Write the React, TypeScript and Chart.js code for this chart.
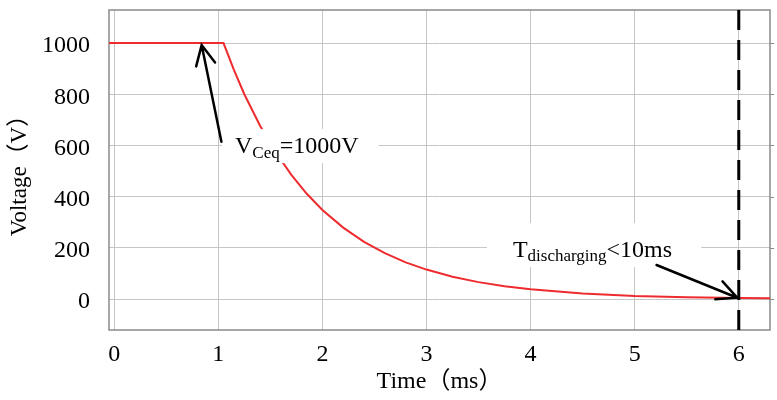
import { useEffect, useRef } from 'react';
import { Chart, registerables } from 'chart.js';

Chart.register(...registerables);

// Capacitor voltage during discharge (time in ms, voltage in V)
const TIME_MS = [-0.05, 0.5, 1.05, 1.15, 1.25, 1.4, 1.55, 1.7, 1.85, 2.0, 2.2, 2.4, 2.6, 2.8, 3.0, 3.25, 3.5, 3.75, 4.0, 4.5, 5.0, 5.5, 6.0, 6.3];
const VOLTAGE_V = [1000, 1000, 1000, 895, 800, 678, 574, 486, 411, 348, 279, 223, 179, 143, 115, 87, 66, 50, 38, 22, 12, 7, 4, 3];

const X_TICKS = [0, 1, 2, 3, 4, 5, 6];
const Y_TICKS = [0, 200, 400, 600, 800, 1000];
const X_MIN = -0.05;
const X_MAX = 6.3;
const Y_MIN = -121;
const Y_MAX = 1129;

// Time at which the discharge is considered complete
const DISCHARGE_MARK_MS = 6;

const SERIF = "'Liberation Serif', 'Times New Roman', 'Noto Sans CJK SC', serif";
const MAIN_FONT = `24px ${SERIF}`;
const SUB_FONT = `17px ${SERIF}`;

// Text callouts: anchor is the baseline-left of the text in data units
const CALLOUTS = [
  { at: [1.16, 570], main: 'V', sub: 'Ceq', tail: '=1000V', subDrop: 5, pad: [13, 24, 20, 10] },
  { at: [3.83, 164], main: 'T', sub: 'discharging', tail: '<10ms', subDrop: 4, pad: [26, 34, 29, 10] },
];

// Arrows pointing from the callouts to the curve
const ARROWS = [
  { from: [1.03, 614], to: [0.84, 992] },
  { from: [5.21, 133], to: [5.985, 5] },
];

const GRID = '#c6c6c6';
const FRAME = '#8a8a8a';

const overlay = {
  id: 'overlay',
  beforeDatasetsDraw(chart: any) {
    const { ctx, chartArea: a, scales } = chart;
    ctx.save();
    ctx.strokeStyle = FRAME;
    ctx.lineWidth = 1.5;
    ctx.strokeRect(a.left, a.top, a.right - a.left, a.bottom - a.top);
    ctx.lineWidth = 1;
    for (const v of Y_TICKS) {
      const py = Math.round(scales.y.getPixelForValue(v)) + 0.5;
      ctx.beginPath();
      ctx.moveTo(a.right, py);
      ctx.lineTo(a.right + 4, py);
      ctx.stroke();
    }
    ctx.restore();
  },
  afterDatasetsDraw(chart: any) {
    const { ctx, chartArea: a, scales } = chart;
    const { x, y } = scales;
    ctx.save();

    // vertical dashed marker
    const mx = x.getPixelForValue(DISCHARGE_MARK_MS);
    ctx.strokeStyle = '#000';
    ctx.lineWidth = 3;
    ctx.setLineDash([20, 10]);
    ctx.beginPath();
    ctx.moveTo(mx, a.top);
    ctx.lineTo(mx, a.bottom);
    ctx.stroke();
    ctx.setLineDash([]);

    // callout text on white boxes
    ctx.textAlign = 'left';
    ctx.textBaseline = 'alphabetic';
    for (const c of CALLOUTS) {
      const px = x.getPixelForValue(c.at[0]);
      const py = y.getPixelForValue(c.at[1]);
      ctx.font = MAIN_FONT;
      const w1 = ctx.measureText(c.main).width;
      const w3 = ctx.measureText(c.tail).width;
      ctx.font = SUB_FONT;
      const w2 = ctx.measureText(c.sub).width;
      const [pl, pt, pr, pb] = c.pad;
      ctx.fillStyle = '#fff';
      ctx.fillRect(px - pl, py - pt, w1 + w2 + w3 + pl + pr, pt + pb);
      ctx.fillStyle = '#000';
      ctx.font = MAIN_FONT;
      ctx.fillText(c.main, px, py);
      ctx.font = SUB_FONT;
      ctx.fillText(c.sub, px + w1, py + c.subDrop);
      ctx.font = MAIN_FONT;
      ctx.fillText(c.tail, px + w1 + w2, py);
    }

    // arrows with open heads
    ctx.strokeStyle = '#000';
    ctx.lineWidth = 2.5;
    ctx.lineCap = 'round';
    for (const ar of ARROWS) {
      const x0 = x.getPixelForValue(ar.from[0]);
      const y0 = y.getPixelForValue(ar.from[1]);
      const x1 = x.getPixelForValue(ar.to[0]);
      const y1 = y.getPixelForValue(ar.to[1]);
      const ang = Math.atan2(y0 - y1, x0 - x1);
      const len = 22;
      const spread = (26 * Math.PI) / 180;
      ctx.beginPath();
      ctx.moveTo(x0, y0);
      ctx.lineTo(x1, y1);
      ctx.moveTo(x1 + len * Math.cos(ang - spread), y1 + len * Math.sin(ang - spread));
      ctx.lineTo(x1, y1);
      ctx.lineTo(x1 + len * Math.cos(ang + spread), y1 + len * Math.sin(ang + spread));
      ctx.stroke();
    }
    ctx.restore();
  },
};

export default function App() {
  const ref = useRef<HTMLCanvasElement>(null);

  useEffect(() => {
    document.body.style.margin = '0';
    const points = TIME_MS.map((t, i) => ({ x: t, y: VOLTAGE_V[i] }));
    const chart = new Chart(ref.current!, {
      type: 'line',
      data: {
        datasets: [
          {
            label: 'Voltage',
            data: points,
            borderColor: '#ee2b2f',
            borderWidth: 2,
            pointRadius: 0,
            tension: 0,
            fill: false,
          },
        ],
      },
      options: {
        responsive: false,
        animation: false,
        layout: { padding: { top: 10, right: 7, left: 0, bottom: 0 } },
        plugins: { legend: { display: false }, tooltip: { enabled: false } },
        scales: {
          x: {
            type: 'linear',
            min: X_MIN,
            max: X_MAX,
            afterBuildTicks: (s: any) => {
              s.ticks = X_TICKS.map((value) => ({ value }));
            },
            afterFit: (s: any) => {
              s.height = 70;
              s.paddingLeft = 0;
              s.paddingRight = 0;
            },
            grid: { color: GRID, lineWidth: 1, drawTicks: false },
            border: { display: false },
            ticks: {
              color: '#000',
              font: { family: SERIF, size: 24 },
              padding: 10,
              maxRotation: 0,
              callback: (v: any) => String(v),
            },
            title: {
              display: true,
              text: 'Time（ms）',
              color: '#000',
              font: { family: SERIF, size: 24 },
              padding: 4,
            },
          },
          y: {
            type: 'linear',
            min: Y_MIN,
            max: Y_MAX,
            afterBuildTicks: (s: any) => {
              s.ticks = Y_TICKS.map((value) => ({ value }));
            },
            afterFit: (s: any) => {
              s.width = 109;
              s.paddingTop = 0;
              s.paddingBottom = 0;
            },
            grid: { color: GRID, lineWidth: 1, drawTicks: false },
            border: { display: false },
            ticks: {
              color: '#000',
              font: { family: SERIF, size: 24 },
              padding: 19,
              labelOffset: 3,
              callback: (v: any) => String(v),
            },
            title: {
              display: true,
              text: 'Voltage（V）',
              color: '#000',
              font: { family: SERIF, size: 23 },
              padding: 6,
            },
          },
        },
      },
      plugins: [overlay],
    });
    return () => chart.destroy();
  }, []);

  return (
    <div style={{ width: 777, height: 400 }}>
      <canvas ref={ref} width={777} height={400} style={{ display: 'block' }} />
    </div>
  );
}
